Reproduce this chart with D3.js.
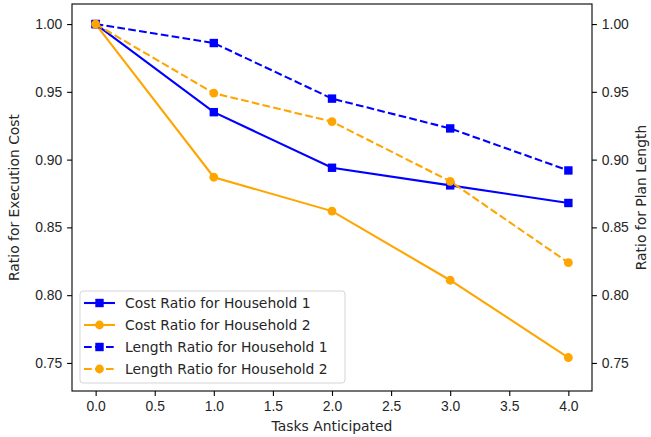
<!DOCTYPE html>
<html>
<head>
<meta charset="utf-8">
<script src="https://cdn.jsdelivr.net/npm/d3@7"></script>
<style>
  body { margin: 0; background: #fff; }
  svg { font-family: 'DejaVu Sans', sans-serif; }
  .axis text { font-size: 13.9px; fill: #262626; }
  .axis path, .axis line { stroke: #000; stroke-width: 1.1; }
</style>
</head>
<body>
<div id="chart"></div>
<script>
// data
var tasks = [0, 1, 2, 3, 4]
var costH1 = [1.000, 0.935, 0.894, 0.881, 0.868]
var costH2 = [1.000, 0.887, 0.862, 0.811, 0.754]
var lengthH1 = [1.000, 0.986, 0.945, 0.923, 0.892]
var lengthH2 = [1.000, 0.949, 0.928, 0.884, 0.824]
var xTicks = [0, 0.5, 1, 1.5, 2, 2.5, 3, 3.5, 4]
var yTicks = [0.75, 0.80, 0.85, 0.90, 0.95, 1.00]

var width = 651, height = 437
var margin = {top: 4, right: 59, bottom: 46, left: 72}
var w = width - margin.left - margin.right
var h = height - margin.top - margin.bottom

var series = [
  {name: 'Cost Ratio for Household 1', values: costH1, color: '#0000ff', marker: 'square', dashed: false, axis: 'left'},
  {name: 'Cost Ratio for Household 2', values: costH2, color: '#ffa500', marker: 'circle', dashed: false, axis: 'left'},
  {name: 'Length Ratio for Household 1', values: lengthH1, color: '#0000ff', marker: 'square', dashed: true, axis: 'right'},
  {name: 'Length Ratio for Household 2', values: lengthH2, color: '#ffa500', marker: 'circle', dashed: true, axis: 'right'}
]

var svg = d3.select('#chart')
  .append('svg')
    .attr('width', width)
    .attr('height', height)

var g = svg.append('g').attr('transform', 'translate(' + margin.left + ',' + margin.top + ')')

var x = d3.scaleLinear().domain([-0.2, 4.2]).range([0, w])
var yLeft = d3.scaleLinear().domain([0.7293, 1.0148]).range([h, 0])
var yRight = d3.scaleLinear().domain([0.7293, 1.0148]).range([h, 0])

// axes
g.append('g')
    .attr('class', 'axis')
    .attr('transform', 'translate(0,' + h + ')')
    .call(d3.axisBottom(x).tickValues(xTicks).tickFormat(d3.format('.1f')).tickSize(4.9).tickPadding(4.9))

g.append('g')
    .attr('class', 'axis')
    .call(d3.axisLeft(yLeft).tickValues(yTicks).tickFormat(d3.format('.2f')).tickSize(4.9).tickPadding(4.9))

g.append('g')
    .attr('class', 'axis')
    .attr('transform', 'translate(' + w + ',0)')
    .call(d3.axisRight(yRight).tickValues(yTicks).tickFormat(d3.format('.2f')).tickSize(4.9).tickPadding(4.9))

g.selectAll('.axis .domain').remove()

// frame
g.append('rect')
    .attr('width', w)
    .attr('height', h)
    .attr('fill', 'none')
    .attr('stroke', '#000')
    .attr('stroke-width', 1.1)

// axis labels
svg.append('text')
    .attr('x', margin.left + w / 2)
    .attr('y', 431)
    .attr('text-anchor', 'middle')
    .style('font-size', '13.9px')
    .attr('fill', '#262626')
    .text('Tasks Anticipated')

svg.append('text')
    .attr('transform', 'translate(19,' + (margin.top + h / 2) + ') rotate(-90)')
    .attr('text-anchor', 'middle')
    .style('font-size', '13.9px')
    .attr('fill', '#262626')
    .text('Ratio for Execution Cost')

svg.append('text')
    .attr('transform', 'translate(646,' + (margin.top + h / 2) + ') rotate(-90)')
    .attr('text-anchor', 'middle')
    .style('font-size', '13.9px')
    .attr('fill', '#262626')
    .text('Ratio for Plan Length')

function drawMarker(sel, s, cx, cy) {
  if (s.marker === 'square') {
    sel.append('rect')
      .attr('x', cx - 4.2).attr('y', cy - 4.2)
      .attr('width', 8.4).attr('height', 8.4)
      .attr('fill', s.color)
  } else {
    sel.append('circle')
      .attr('cx', cx).attr('cy', cy).attr('r', 4.4)
      .attr('fill', s.color)
  }
}

// lines + markers
series.forEach(function(s) {
  var y = s.axis === 'left' ? yLeft : yRight
  var line = d3.line()
    .x(function(d, i) { return x(tasks[i]) })
    .y(function(d) { return y(d) })
  var sg = g.append('g')
  sg.append('path')
      .attr('d', line(s.values))
      .attr('fill', 'none')
      .attr('stroke', s.color)
      .attr('stroke-width', 2.08)
      .attr('stroke-dasharray', s.dashed ? '7.7,3.3' : null)
  s.values.forEach(function(d, i) {
    drawMarker(sg, s, x(tasks[i]), y(d))
  })
})

// legend
var lg = svg.append('g').attr('transform', 'translate(80,291)')
lg.append('rect')
    .attr('width', 265)
    .attr('height', 92)
    .attr('rx', 3)
    .attr('fill', 'rgba(255,255,255,0.8)')
    .attr('stroke', '#d5d5d5')
    .attr('stroke-width', 1)

series.forEach(function(s, i) {
  var yy = 12 + i * 22
  lg.append('line')
      .attr('x1', 4).attr('x2', 35)
      .attr('y1', yy).attr('y2', yy)
      .attr('stroke', s.color)
      .attr('stroke-width', 2.08)
      .attr('stroke-dasharray', s.dashed ? '7.7,3.3' : null)
  drawMarker(lg, s, 19.5, yy)
  lg.append('text')
      .attr('x', 45)
      .attr('y', yy)
      .attr('dy', '0.35em')
      .style('font-size', '13.9px')
      .attr('fill', '#262626')
      .text(s.name)
})
</script>
</body>
</html>
